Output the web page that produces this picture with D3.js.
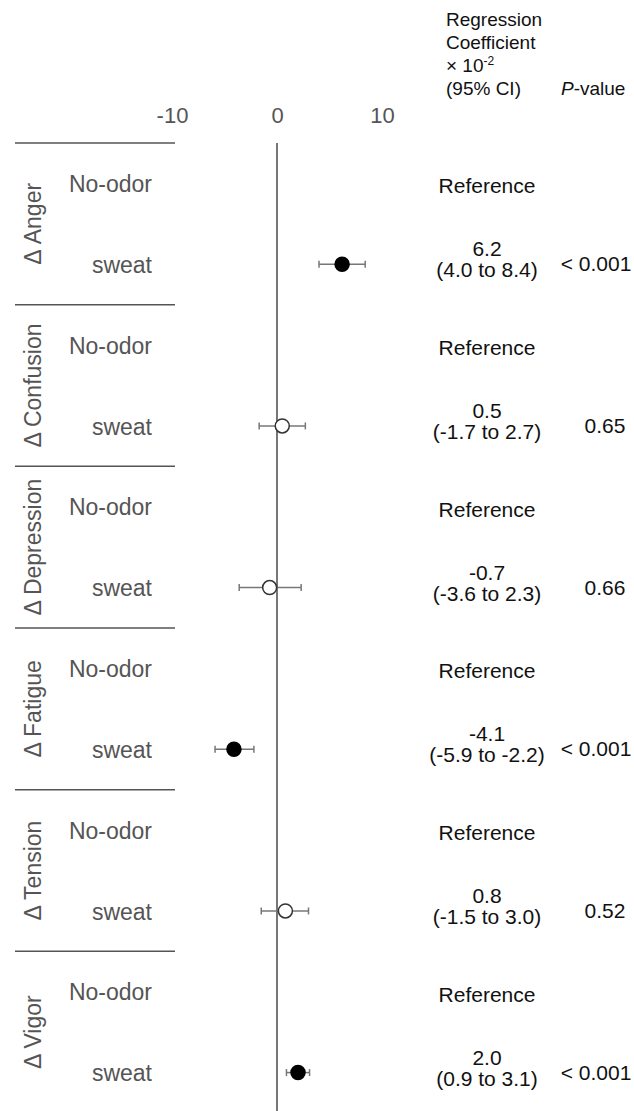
<!DOCTYPE html>
<html>
<head>
<meta charset="utf-8">
<script src="https://cdn.jsdelivr.net/npm/d3@7"></script>
<style>
  body { margin: 0; background: #fff; }
  svg { display: block; font-family: "Liberation Sans", Arial, sans-serif; }
</style>
</head>
<body>
<svg id="chart" width="634" height="1111"></svg>
<script>
// forest plot data
const groups = ['Anger', 'Confusion', 'Depression', 'Fatigue', 'Tension', 'Vigor'];
const conditions = ['No-odor', 'sweat'];
const estimates = [6.2, 0.5, -0.7, -4.1, 0.8, 2.0];
const lower = [4.0, -1.7, -3.6, -5.9, -1.5, 0.9];
const upper = [8.4, 2.7, 2.3, -2.2, 3.0, 3.1];
const pValues = ['< 0.001', '0.65', '0.66', '< 0.001', '0.52', '< 0.001'];
const significant = [true, false, false, true, false, true];
const xTicks = [-10, 0, 10];

const svg = d3.select('#chart');

const x = d3.scaleLinear().domain([-10, 10]).range([172, 382]);

// one band per row (group x condition)
const rows = [];
groups.forEach((g, i) => conditions.forEach(c => rows.push({ group: g, cond: c, gi: i })));
const y = d3.scaleBand()
    .domain(rows.map(r => r.group + '|' + r.cond))
    .range([143, 1113]);
const bh = y.bandwidth();
const rowY = (g, c) => y(g + '|' + c) + bh / 2;

// x tick labels on top, no axis line
const axis = svg.append('g')
    .attr('transform', 'translate(0,123)')
    .call(d3.axisTop(x).tickValues(xTicks).tickFormat(d => String(d)).tickSize(0).tickPadding(0));
axis.select('.domain').remove();
axis.selectAll('text')
    .attr('font-family', '"Liberation Sans", Arial, sans-serif')
    .attr('font-size', 22)
    .attr('fill', '#555')
    .attr('dy', 0);

// zero reference line
svg.append('line')
    .attr('x1', x(0)).attr('x2', x(0))
    .attr('y1', 143).attr('y2', 1111)
    .attr('stroke', '#777')
    .attr('stroke-width', 2);

// group separators
svg.append('g').selectAll('line')
    .data(groups)
    .join('line')
    .attr('x1', 15).attr('x2', 175)
    .attr('y1', d => y(d + '|' + conditions[0]))
    .attr('y2', d => y(d + '|' + conditions[0]))
    .attr('stroke', '#555')
    .attr('stroke-width', 1.5);

// rotated group labels
svg.append('g').selectAll('text')
    .data(groups)
    .join('text')
    .attr('transform', d => `translate(33,${y(d + '|' + conditions[0]) + bh}) rotate(-90)`)
    .attr('text-anchor', 'middle')
    .attr('dy', '0.36em')
    .attr('font-size', 23)
    .attr('fill', '#555')
    .text(d => '\u0394 ' + d);

// condition labels
svg.append('g').selectAll('text')
    .data(rows)
    .join('text')
    .attr('x', 152)
    .attr('y', d => rowY(d.group, d.cond))
    .attr('dy', '0.38em')
    .attr('text-anchor', 'end')
    .attr('font-size', 23)
    .attr('fill', '#555')
    .text(d => d.cond);

// error bars + points for the sweat rows
const marks = svg.append('g').selectAll('g')
    .data(groups)
    .join('g')
    .attr('transform', d => `translate(0,${rowY(d, 'sweat')})`);

marks.append('line')
    .attr('x1', (d, i) => x(lower[i]))
    .attr('x2', (d, i) => x(upper[i]))
    .attr('stroke', '#777')
    .attr('stroke-width', 1.5);
marks.append('line')
    .attr('x1', (d, i) => x(lower[i])).attr('x2', (d, i) => x(lower[i]))
    .attr('y1', -3.5).attr('y2', 3.5)
    .attr('stroke', '#777').attr('stroke-width', 1.5);
marks.append('line')
    .attr('x1', (d, i) => x(upper[i])).attr('x2', (d, i) => x(upper[i]))
    .attr('y1', -3.5).attr('y2', 3.5)
    .attr('stroke', '#777').attr('stroke-width', 1.5);
marks.append('circle')
    .attr('cx', (d, i) => x(estimates[i]))
    .attr('r', 7)
    .attr('fill', (d, i) => significant[i] ? '#000' : '#fff')
    .attr('stroke', (d, i) => significant[i] ? '#000' : '#333')
    .attr('stroke-width', 1.5);

// right columns
const right = svg.append('g').attr('fill', '#111').attr('font-size', 21);

right.selectAll('text.ref')
    .data(groups)
    .join('text')
    .attr('class', 'ref')
    .attr('x', 487)
    .attr('y', d => rowY(d, 'No-odor') + 10)
    .attr('text-anchor', 'middle')
    .text('Reference');

right.selectAll('text.est')
    .data(groups)
    .join('text')
    .attr('class', 'est')
    .attr('x', 487)
    .attr('y', d => rowY(d, 'sweat') - 8)
    .attr('text-anchor', 'middle')
    .text((d, i) => estimates[i].toFixed(1));

right.selectAll('text.ci')
    .data(groups)
    .join('text')
    .attr('class', 'ci')
    .attr('x', 487)
    .attr('y', d => rowY(d, 'sweat') + 13)
    .attr('text-anchor', 'middle')
    .text((d, i) => `(${lower[i].toFixed(1)} to ${upper[i].toFixed(1)})`);

right.selectAll('text.p')
    .data(groups)
    .join('text')
    .attr('class', 'p')
    .attr('x', (d, i) => pValues[i].startsWith('<') ? 596 : 605)
    .attr('y', d => rowY(d, 'sweat') + 7)
    .attr('text-anchor', 'middle')
    .text((d, i) => pValues[i]);

// header
const head = svg.append('g').attr('fill', '#111').attr('font-size', 19);
head.append('text').attr('x', 446).attr('y', 26).text('Regression');
head.append('text').attr('x', 446).attr('y', 49).text('Coefficient');
const pow = head.append('text').attr('x', 446).attr('y', 72);
pow.append('tspan').text('\u00d7 10');
pow.append('tspan').attr('font-size', 12).attr('dy', -7).text('-2');
head.append('text').attr('x', 446).attr('y', 95).text('(95% CI)');
const pv = head.append('text').attr('x', 561).attr('y', 95);
pv.append('tspan').attr('font-style', 'italic').text('P');
pv.append('tspan').text('-value');
</script>
</body>
</html>
